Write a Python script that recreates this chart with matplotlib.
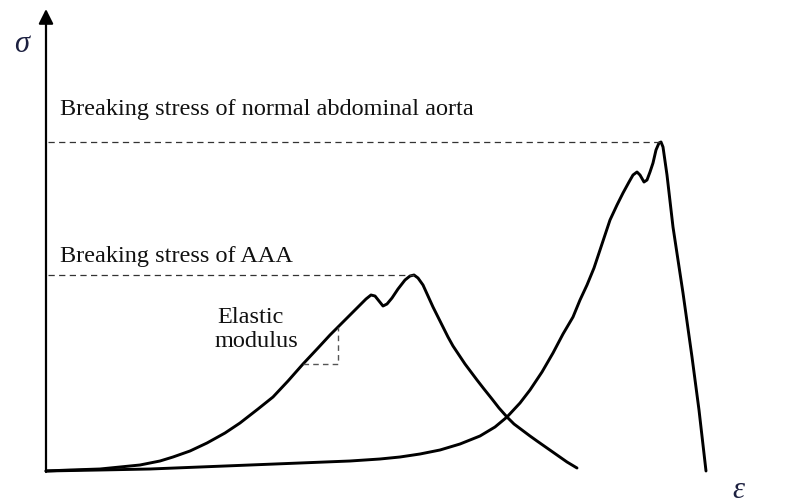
import matplotlib.pyplot as plt

# stress-strain curves (arbitrary units, origin at the axis corner)
aaa_strain = [0, 24, 54, 74, 94, 114, 127, 144, 161, 179, 194, 212, 227, 242, 257, 272, 284,
              299, 312, 320, 325, 329, 333, 337, 341, 346, 352, 359, 364, 368, 372,
              377, 382, 387, 392, 397, 402, 407, 413, 419, 425, 431, 438, 446, 453, 461,
              468, 476, 484, 491, 501, 511, 521, 531]
aaa_stress = [0, 1, 2, 4, 6, 10, 14, 20, 28, 38, 48, 62, 74, 90, 107, 123, 136,
              151, 164, 172, 176, 175, 170, 165, 167, 173, 182, 191, 195, 196, 193,
              186, 175, 164, 154, 144, 134, 125, 116, 107, 99, 91, 82, 72, 63, 54,
              47, 41, 35, 30, 23, 16, 9, 3]

normal_strain = [0, 54, 104, 154, 204, 254, 304, 334, 354, 374, 394, 414, 434, 449, 461, 474,
                 484, 496, 507, 517, 527, 534, 541, 548, 554, 559, 564, 571, 577, 583, 587,
                 591, 594, 598, 601, 604, 607, 610, 613, 615, 617, 621, 627, 637, 646, 653,
                 660]
normal_stress = [0, 1, 2, 4, 6, 8, 10, 12, 14, 17, 21, 27, 35, 44, 54, 68,
                 81, 99, 118, 137, 154, 171, 186, 203, 221, 236, 251, 266, 278, 289, 296,
                 299, 296, 289, 291, 299, 308, 321, 328, 329, 324, 296, 244, 178, 114, 61,
                 0]

normal_break = max(normal_stress)
aaa_break = max(aaa_stress)

fig = plt.figure(figsize=(8.02, 5.04), dpi=100)
ax = fig.add_axes([0, 0, 1, 1])
ax.set_xlim(-46, 756)
ax.set_ylim(-33, 471)
ax.axis('off')

serif = 'Liberation Serif'
txt = dict(fontsize=17.5, family=serif, va='baseline', ha='left', color='#111111')

# axes with arrow heads
ax.annotate('', xy=(757, 0), xytext=(0, 0),
            arrowprops=dict(arrowstyle='-|>', lw=1.6, color='black', mutation_scale=22,
                            shrinkA=0, shrinkB=0))
ax.annotate('', xy=(0, 462), xytext=(0, -1),
            arrowprops=dict(arrowstyle='-|>', lw=1.6, color='black', mutation_scale=22,
                            shrinkA=0, shrinkB=0))

# curves
ax.plot(aaa_strain, aaa_stress, color='black', lw=2.1, solid_joinstyle='round',
        solid_capstyle='round')
ax.plot(normal_strain, normal_stress, color='black', lw=2.1, solid_joinstyle='round',
        solid_capstyle='round')

# breaking stress levels
i_n = normal_stress.index(normal_break)
i_a = aaa_stress.index(aaa_break)
ax.plot([2, normal_strain[i_n]], [normal_break, normal_break], ls=(0, (5, 3.5)),
        color='#333333', lw=0.9)
ax.plot([2, aaa_strain[i_a]], [aaa_break, aaa_break], ls=(0, (5, 3.5)),
        color='#333333', lw=0.9)

# slope triangle for elastic modulus
ax.plot([257, 292, 292], [107, 107, 144], ls=(0, (4, 3)), color='#555555', lw=1.0)

ax.text(14, 356, 'Breaking stress of normal abdominal aorta', **txt)
ax.text(14, 209, 'Breaking stress of AAA', **txt)
ax.text(171, 148, 'Elastic', **txt)
ax.text(169, 124, 'modulus', **txt)

ax.text(-24, 426, 'σ', fontsize=22, family=serif, style='italic', ha='center',
        va='center', color='#1c2040')
ax.text(692, -19, 'ε', fontsize=22, family=serif, style='italic', ha='center',
        va='center', color='#1c2040')

fig.savefig('out.png', dpi=100)
